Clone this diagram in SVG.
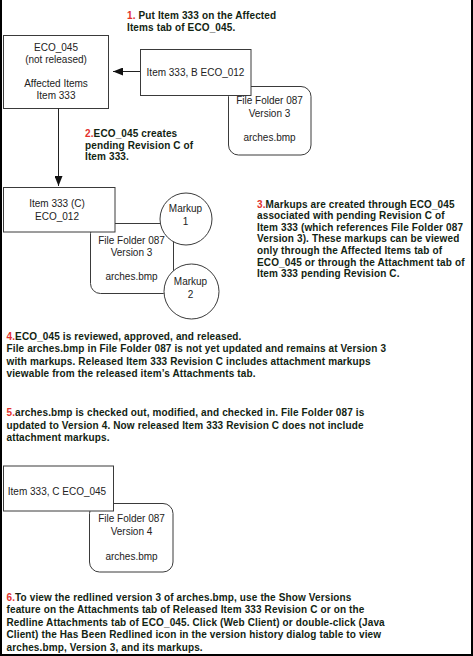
<svg xmlns="http://www.w3.org/2000/svg" width="473" height="656" viewBox="0 0 473 656">
<style>
.box{fill:#fff;stroke:#3a3a3a;stroke-width:1}
.fold{fill:#fff;stroke:#3a3a3a;stroke-width:1}
.mk{fill:#fff;stroke:#3a3a3a;stroke-width:1}
.nt{font-family:"Liberation Sans",Arial,sans-serif;font-size:10px;fill:#222;text-anchor:middle}
.st{font-family:"Liberation Sans",Arial,sans-serif;font-size:10px;font-weight:bold;fill:#122412;letter-spacing:0.13px}
.n{fill:#e3312d}
.ln{stroke:#222;stroke-width:1;fill:none}
</style>
<defs>
<marker id="ah" viewBox="0 0 10 8" refX="10" refY="4" markerWidth="10" markerHeight="8" markerUnits="userSpaceOnUse" orient="auto">
<path d="M0,0 L10,4 L0,8 Z" fill="#111"/>
</marker>
</defs>
<rect x="0" y="0" width="473" height="656" fill="#fff"/>
<g id="frame" fill="#000">
<rect x="0" y="0" width="2" height="656"/>
<rect x="471" y="0" width="2" height="656"/>
<rect x="0" y="654" width="473" height="2"/>
</g>

<g id="folder1">
<rect class="fold" x="228.5" y="86.5" width="82.5" height="68.5" rx="10"/>
<text class="nt" x="269.5" y="103.5">File Folder 087</text>
<text class="nt" x="269.5" y="116.5">Version 3</text>
<text class="nt" x="269.5" y="141">arches.bmp</text>
</g>
<g id="eco045">
<rect class="box" x="3.5" y="35.5" width="105" height="73"/>
<text class="nt" x="56" y="50.5">ECO_045</text>
<text class="nt" x="56" y="62.5">(not released)</text>
<text class="nt" x="56" y="86.5">Affected Items</text>
<text class="nt" x="56" y="99">Item 333</text>
</g>
<g id="itemB">
<rect class="box" x="140.5" y="49.5" width="110.5" height="46"/>
<text class="nt" x="195.5" y="75.5">Item 333, B ECO_012</text>
</g>

<g id="folder2">
<rect class="fold" x="90.5" y="223.5" width="83" height="70" rx="10"/>
<text class="nt" x="131.5" y="243.5">File Folder 087</text>
<text class="nt" x="131.5" y="255.5">Version 3</text>
<text class="nt" x="131.5" y="280">arches.bmp</text>
</g>
<g id="itemC">
<rect class="box" x="3.5" y="187.5" width="111.5" height="44.5"/>
<text class="nt" x="57" y="207">Item 333 (C)</text>
<text class="nt" x="57" y="219.5">ECO_012</text>
</g>
<g id="markup1">
<circle class="mk" cx="186" cy="219" r="26"/>
<text class="nt" x="185.5" y="211.5">Markup</text>
<text class="nt" x="185.5" y="225">1</text>
</g>
<g id="markup2">
<circle class="mk" cx="191.5" cy="291.5" r="27.5"/>
<text class="nt" x="190.5" y="284.5">Markup</text>
<text class="nt" x="190.5" y="298">2</text>
</g>

<g id="folder3">
<rect class="fold" x="89.5" y="503.5" width="83.5" height="68.5" rx="10"/>
<text class="nt" x="131.5" y="522">File Folder 087</text>
<text class="nt" x="131.5" y="535">Version 4</text>
<text class="nt" x="131.5" y="560">arches.bmp</text>
</g>
<g id="itemC045">
<rect class="box" x="3.5" y="466" width="110" height="45"/>
<text class="nt" x="57" y="495">Item 333, C ECO_045</text>
</g>

<g id="connectors">
<line class="ln" x1="140" y1="71.5" x2="113" y2="71.5" marker-end="url(#ah)"/>
<line class="ln" x1="58.5" y1="108.5" x2="58.5" y2="186" marker-end="url(#ah)"/>
</g>

<g id="notes">
<text class="st" x="127" y="18.5"><tspan class="n">1.</tspan> Put Item 333 on the Affected</text>
<text class="st" x="127" y="30.5">Items tab of ECO_045.</text>

<text class="st" x="85" y="137"><tspan class="n">2.</tspan>ECO_045 creates</text>
<text class="st" x="85" y="148.5">pending Revision C of</text>
<text class="st" x="85" y="160">Item 333.</text>

<text class="st" x="257" y="207.5"><tspan class="n">3.</tspan>Markups are created through ECO_045</text>
<text class="st" x="257" y="219">associated with pending Revision C of</text>
<text class="st" x="257" y="230.7">Item 333 (which references File Folder 087</text>
<text class="st" x="257" y="242.4">Version 3). These markups can be viewed</text>
<text class="st" x="257" y="254">only through the Affected Items tab of</text>
<text class="st" x="257" y="265.7">ECO_045 or through the Attachment tab of</text>
<text class="st" x="257" y="277.4">Item 333 pending Revision C.</text>

<text class="st" x="6.5" y="339.5"><tspan class="n">4.</tspan>ECO_045 is reviewed, approved, and released.</text>
<text class="st" x="6.5" y="352">File arches.bmp in File Folder 087 is not yet updated and remains at Version 3</text>
<text class="st" x="6.5" y="364.5">with markups. Released Item 333 Revision C includes attachment markups</text>
<text class="st" x="6.5" y="377">viewable from the released item’s Attachments tab.</text>

<text class="st" x="6.5" y="416"><tspan class="n">5.</tspan>arches.bmp is checked out, modified, and checked in. File Folder 087 is</text>
<text class="st" x="6.5" y="428.5">updated to Version 4. Now released Item 333 Revision C does not include</text>
<text class="st" x="6.5" y="441">attachment markups.</text>

<text class="st" x="6.5" y="600.5"><tspan class="n">6.</tspan>To view the redlined version 3 of arches.bmp, use the Show Versions</text>
<text class="st" x="6.5" y="613">feature on the Attachments tab of Released Item 333 Revision C or on the</text>
<text class="st" x="6.5" y="625.5">Redline Attachments tab of ECO_045. Click (Web Client) or double-click (Java</text>
<text class="st" x="6.5" y="638">Client) the Has Been Redlined icon in the version history dialog table to view</text>
<text class="st" x="6.5" y="650.5">arches.bmp, Version 3, and its markups.</text>
</g>
</svg>
